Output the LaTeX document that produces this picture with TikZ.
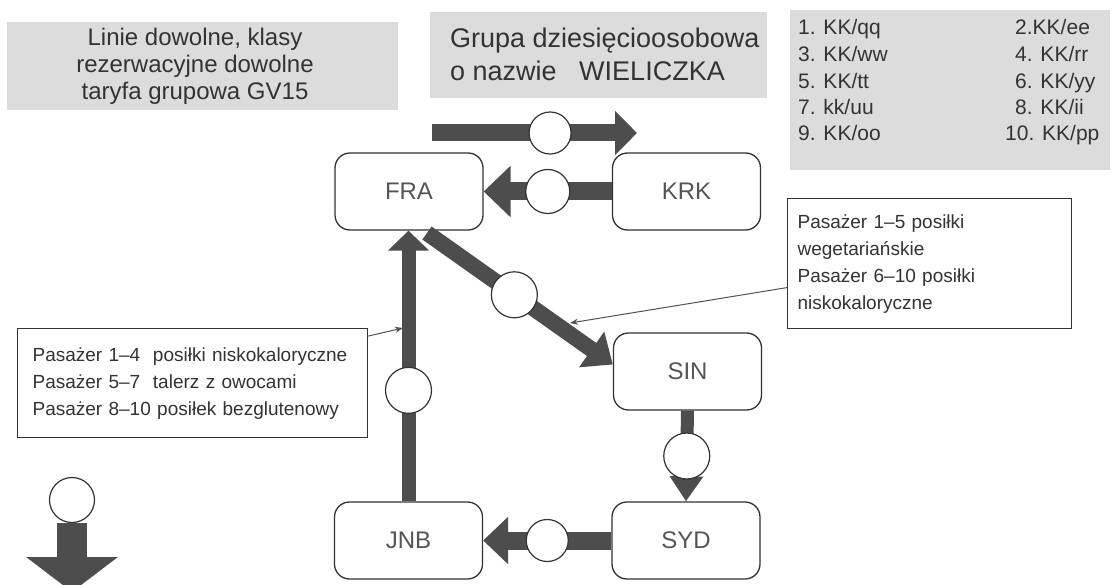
\documentclass[tikz,border=0pt]{standalone}
\usepackage{fontspec}
\setmainfont{Liberation Sans}
\usetikzlibrary{arrows.meta,calc}
\definecolor{ink}{HTML}{333333}
\definecolor{arr}{HTML}{4D4D4D}
\definecolor{boxgray}{HTML}{DCDCDC}
\definecolor{lbl}{HTML}{555555}
\begin{document}
\begin{tikzpicture}[x=1pt,y=-1pt,
  city/.style={draw=ink, line width=1.3pt, rounded corners=15pt, minimum width=148pt,
    minimum height=77pt, inner sep=0pt, font=\fontsize{24}{28}\selectfont, text=lbl},
  ring/.style={circle, draw=ink, line width=1.2pt, fill=white, minimum size=44pt, inner sep=0pt},
  flow/.style n args={3}{draw=arr, fill=arr, line width=#1, -{Triangle[length=#2,width=#3]}},
  callout/.style={draw=ink, line width=1.2pt, fill=white, font=\fontsize{19}{27}\selectfont,
    text=ink, align=left, anchor=north west},
  leader/.style={draw=ink!85, line width=1pt, -{Stealth[length=8pt,width=6pt]}},
  legendtxt/.style={font=\fontsize{21}{26}\selectfont, text=ink, anchor=base west, inner sep=0pt}
]
\useasboundingbox (0,0) rectangle (1113,585);
\fill[white] (0,0) rectangle (1113,585);

% grey header boxes
\fill[boxgray] (7,22) rectangle (398,110);
\fill[boxgray] (430,12) rectangle (767,98);
\fill[boxgray] (790,10) rectangle (1110,170);

\node[font=\fontsize{24}{27}\selectfont, text=ink, align=center, inner sep=0pt] (hdrA) at (195,66)
  {Linie dowolne, klasy\\rezerwacyjne dowolne\\taryfa grupowa GV15};
\node[font=\fontsize{27}{33}\selectfont, text=ink, align=left, anchor=west, inner sep=0pt] (hdrB) at (450,54)
  {Grupa dziesięcioosobowa\\o nazwie\ \ \ WIELICZKA};

\node[legendtxt] (p1) at (798,35) {1. KK/qq};
\node[legendtxt] (p2) at (1015,35) {2.KK/ee};
\node[legendtxt] (p3) at (798,62) {3. KK/ww};
\node[legendtxt] (p4) at (1015,62) {4. KK/rr};
\node[legendtxt] (p5) at (798,89) {5. KK/tt};
\node[legendtxt] (p6) at (1015,89) {6. KK/yy};
\node[legendtxt] (p7) at (798,115) {7. kk/uu};
\node[legendtxt] (p8) at (1015,115) {8. KK/ii};
\node[legendtxt] (p9) at (798,141) {9. KK/oo};
\node[legendtxt] (p10) at (1005,141) {10. KK/pp};

% airports
\node[city] (fra) at (409,191.5) {FRA};
\node[city] (krk) at (686.5,191.5) {KRK};
\node[city] (sin) at (687.5,371.5) {SIN};
\node[city] (syd) at (686,540.5) {SYD};
\node[city] (jnb) at (408.5,540.5) {JNB};

% flows
\coordinate (t0) at (432,133);
\coordinate (t1) at (637,133);
\draw[flow={17pt}{22pt}{43pt}] (t0) -- node[ring, minimum size=42pt, pos=0.576] (r6) {} (t1);

\draw[flow={18pt}{27pt}{50pt}] (krk.west) -- node[ring] (r1) {} (fra.east);
\draw[flow={18pt}{25pt}{46pt}] (syd.west) -- node[ring, minimum size=42pt] (r2) {} (jnb.east);
\draw[flow={13pt}{25pt}{32pt}] (sin.south) -- node[ring, minimum size=46pt] (r3) {} (syd.north);
\draw[flow={14pt}{20pt}{40pt}] (jnb.north) -- node[ring, minimum size=46pt, pos=0.41] (r4) {} (jnb.north |- fra.south);

\coordinate (d0) at (427,233);
\coordinate (d1) at ($(sin.west)+(0,-7)$);
\draw[flow={16pt}{26pt}{42pt}] (d0) -- node[ring, minimum size=46pt, pos=0.47] (r5) {} (d1);

% legend arrow
\node[ring, minimum size=45pt] (r7) at (72,500) {};
\coordinate (l1) at (72,592);
\draw[flow={30pt}{35pt}{90pt}] (r7.south) -- (l1);

% callouts
\node[callout, minimum width=284pt, minimum height=130pt, text width=264pt, inner xsep=10pt] (rc) at (787,198)
  {Pasażer 1–5 posiłki\\wegetariańskie\\Pasażer 6–10 posiłki\\niskokaloryczne};
\node[callout, minimum width=350pt, minimum height=109pt, text width=320pt, inner xsep=15pt] (lc) at (17,328)
  {Pasażer 1–4\ \ posiłki niskokaloryczne\\Pasażer 5–7\ \ talerz z owocami\\Pasażer 8–10 posiłek bezglutenowy};

\coordinate (rcp) at (570,323);
\draw[leader] ([yshift=-24pt]rc.west) -- (rcp);
\coordinate (lcp) at (403,328);
\draw[leader] ([yshift=47pt]lc.east) -- (lcp);
\end{tikzpicture}
\end{document}
